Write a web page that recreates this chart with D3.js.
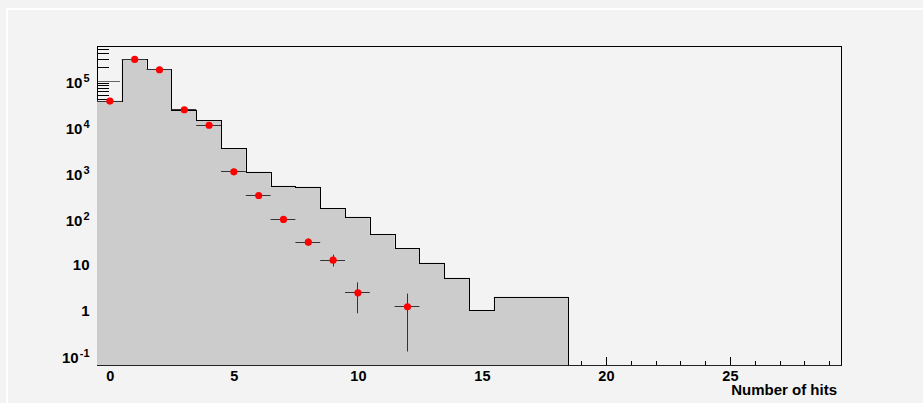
<!DOCTYPE html>
<html>
<head>
<meta charset="utf-8">
<script src="https://cdn.jsdelivr.net/npm/d3@7"></script>
<style>
    body { margin: 0; background: #f3f3f3; }
    svg { display: block; }
    text { font-family: "Liberation Sans", Arial, sans-serif; font-weight: bold; fill: #000; }
</style>
</head>
<body>
<div id="vis"></div>
<script>
// simulated histogram, one bin per number of hits (bins 19..29 are empty)
var binCenters = [0, 1, 2, 3, 4, 5, 6, 7, 8, 9, 10, 11, 12, 13, 14, 15, 16, 17, 18,
                  19, 20, 21, 22, 23, 24, 25, 26, 27, 28, 29];
var simCounts = [35900, 292000, 174000, 22100, 13600, 3270, 1010, 500, 475, 160, 105, 44,
                 21.5, 10.4, 4.9, 0.95, 1.88, 1.88, 1.88,
                 0, 0, 0, 0, 0, 0, 0, 0, 0, 0, 0];

// measured points with errors
var dataHits = [0, 1, 2, 3, 4, 5, 6, 7, 8, 9, 10, 12];
var dataCounts = [36000, 292000, 174000, 23300, 10700, 1030, 313, 94, 29.9, 12.1, 2.35, 1.16];
var dataErrors = [190, 540, 417, 153, 103, 32, 17.7, 9.7, 5.5, 3.5, 1.53, 1.04];

// axis ticks
var xMajorTicks = [0, 5, 10, 15, 20, 25];
var xMinorTicks = [1, 2, 3, 4, 6, 7, 8, 9, 11, 12, 13, 14, 16, 17, 18, 19, 21, 22, 23, 24, 26, 27, 28, 29];
var yMajorTicks = [0.1, 1, 10, 100, 1000, 10000, 100000];
var yLabels = [['10', '-1'], ['1', null], ['10', null], ['10', '2'], ['10', '3'], ['10', '4'], ['10', '5']];
var yMinorTicks = [0.2, 0.3, 0.4, 0.5, 0.6, 0.7, 0.8, 0.9, 2, 3, 4, 5, 6, 7, 8, 9,
                   20, 30, 40, 50, 60, 70, 80, 90, 200, 300, 400, 500, 600, 700, 800, 900,
                   2000, 3000, 4000, 5000, 6000, 7000, 8000, 9000,
                   20000, 30000, 40000, 50000, 60000, 70000, 80000, 90000,
                   200000, 300000, 400000, 500000];
var xTitle = 'Number of hits';

function hitsChart(rootTag) {
    var width = 923;
    var height = 403;
    var frame = { left: 97, right: 841, top: 46, bottom: 365 };
    var yMin = 0.0608, yMax = 5.6e5;

    var x = d3.scaleLinear().domain([-0.5, 29.5]).range([frame.left, frame.right]);
    var y = d3.scaleLog().domain([yMin, yMax]).range([frame.bottom, frame.top]);
    var yc = (v) => y(Math.max(v, yMin));

    var svg = d3.select(rootTag)
        .append('svg')
        .attr('width', width)
        .attr('height', height);

    svg.append('rect')
        .attr('width', width).attr('height', height)
        .attr('fill', '#f3f3f3');

    // pad highlight border
    svg.append('path')
        .attr('d', 'M7,' + height + 'V9H' + width)
        .attr('fill', 'none')
        .attr('stroke', '#ffffff')
        .attr('stroke-width', 2);

    // frame, drawn first so the histogram covers it
    svg.append('rect')
        .attr('x', frame.left + 0.5).attr('y', frame.top + 0.5)
        .attr('width', frame.right - frame.left).attr('height', frame.bottom - frame.top)
        .attr('fill', 'none')
        .attr('stroke', '#000')
        .attr('shape-rendering', 'crispEdges');

    // y axis: minor ticks, then major ticks with labels (ticks point inwards)
    var yMinorAxis = svg.append('g')
        .attr('transform', 'translate(' + (frame.left + 0.5) + ',0.5)')
        .call(d3.axisLeft(y).tickValues(yMinorTicks).tickSizeInner(-11).tickSizeOuter(0).tickFormat(''));
    yMinorAxis.select('.domain').remove();

    var yMajorAxis = svg.append('g')
        .attr('transform', 'translate(' + (frame.left + 0.5) + ',0.5)')
        .call(d3.axisLeft(y).tickValues(yMajorTicks).tickSizeInner(-22).tickSizeOuter(0).tickPadding(8));
    yMajorAxis.select('.domain').remove();
    yMajorAxis.selectAll('.tick line').attr('stroke', '#666');

    yMajorAxis.selectAll('.tick text')
        .attr('font-size', 15)
        .attr('fill', '#000')
        .each(function (d, i) {
            var lab = yLabels[i];
            var t = d3.select(this).text(null);
            if (lab[1] === null) {
                t.attr('dy', '0.36em').text(lab[0]);
            } else {
                t.attr('dy', 7);
                t.append('tspan').text(lab[0]);
                t.append('tspan').attr('font-size', 11).attr('dx', 1).attr('dy', -6).text(lab[1]);
            }
        });

    // x axis ticks (covered by histogram where it is filled)
    var xMinorAxis = svg.append('g')
        .attr('transform', 'translate(0.5,' + (frame.bottom + 0.5) + ')')
        .call(d3.axisBottom(x).tickValues(xMinorTicks).tickSizeInner(-5).tickSizeOuter(0).tickFormat(''));
    xMinorAxis.select('.domain').remove();

    var xMajorAxis = svg.append('g')
        .attr('transform', 'translate(0.5,' + (frame.bottom + 0.5) + ')')
        .call(d3.axisBottom(x).tickValues(xMajorTicks).tickSizeInner(-9).tickSizeOuter(0).tickPadding(5));
    xMajorAxis.select('.domain').remove();
    xMajorAxis.selectAll('.tick text').attr('font-size', 14.5).attr('fill', '#000');

    svg.selectAll('.tick line').attr('shape-rendering', 'crispEdges');

    // histogram
    var steps = binCenters.map((c, i) => [c - 0.5, simCounts[i]]);
    steps.push([binCenters[binCenters.length - 1] + 0.5, simCounts[simCounts.length - 1]]);

    var area = d3.area()
        .curve(d3.curveStepAfter)
        .x((d) => x(d[0]))
        .y0(frame.bottom)
        .y1((d) => yc(d[1]));

    var line = d3.line()
        .curve(d3.curveStepAfter)
        .x((d) => x(d[0]))
        .y((d) => yc(d[1]));

    svg.append('path')
        .datum(steps)
        .attr('d', area)
        .attr('fill', '#cccccc');

    svg.append('path')
        .datum(steps)
        .attr('d', line)
        .attr('fill', 'none')
        .attr('stroke', '#000')
        .attr('stroke-width', 1)
        .attr('transform', 'translate(0.5,0.5)')
        .attr('shape-rendering', 'crispEdges');

    // x axis line on top
    svg.append('line')
        .attr('x1', frame.left).attr('x2', frame.right + 1)
        .attr('y1', frame.bottom + 0.5).attr('y2', frame.bottom + 0.5)
        .attr('stroke', '#222')
        .attr('shape-rendering', 'crispEdges');

    // data points with error bars
    var points = dataHits.map((h, i) => ({ hits: h, count: dataCounts[i], err: dataErrors[i] }));

    var groups = svg.selectAll('.point')
        .data(points)
        .enter()
        .append('g')
        .classed('point', true);

    groups.append('line')
        .attr('x1', (d) => x(d.hits - 0.5))
        .attr('x2', (d) => x(d.hits + 0.5))
        .attr('y1', (d) => Math.round(y(d.count)) + 0.5)
        .attr('y2', (d) => Math.round(y(d.count)) + 0.5)
        .attr('stroke', '#333');

    groups.append('line')
        .attr('x1', (d) => Math.round(x(d.hits)) + 0.5)
        .attr('x2', (d) => Math.round(x(d.hits)) + 0.5)
        .attr('y1', (d) => yc(d.count - d.err))
        .attr('y2', (d) => yc(d.count + d.err))
        .attr('stroke', '#333');

    groups.append('circle')
        .attr('cx', (d) => x(d.hits) + 0.5)
        .attr('cy', (d) => y(d.count) + 0.5)
        .attr('r', 3.6)
        .attr('fill', '#ff0000');

    // axis title
    svg.append('text')
        .attr('x', frame.right - 4)
        .attr('y', 395)
        .attr('text-anchor', 'end')
        .attr('font-size', 15)
        .text(xTitle);

    return null;
}

hitsChart('#vis');
</script>
</body>
</html>
